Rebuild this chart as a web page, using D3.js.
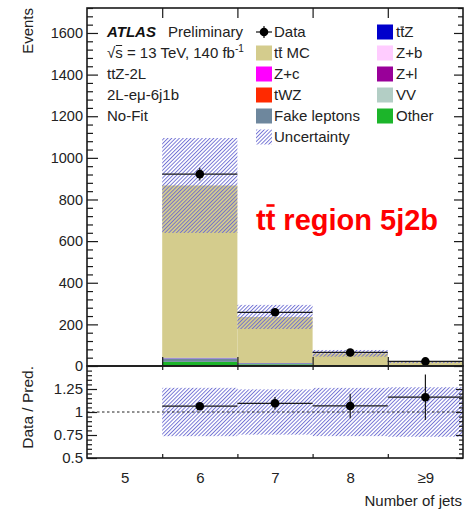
<!DOCTYPE html>
<html>
<head>
<meta charset="utf-8">
<script src="https://cdn.jsdelivr.net/npm/d3@7"></script>
<style>
  html, body { margin: 0; padding: 0; background: #fff; }
  svg { display: block; font-family: "Liberation Sans", Arial, Helvetica, sans-serif; }
</style>
</head>
<body>
<svg id="chart" width="467" height="513"></svg>
<script>
// ---- Binning: number of jets ----
const binLabels = ["5", "6", "7", "8", "\u22659"];
const binEdges  = [4.5, 5.5, 6.5, 7.5, 8.5, 9.5];
const binCenters = [5, 6, 7, 8, 9];

// ---- Observed data ----
const dataCounts = [0, 922, 258, 65, 22];

// ---- Expected yields per sample ----
const yieldOther = [0, 20, 8, 2, 1];
const yieldFake  = [0, 15, 4, 1, 0.3];
const yieldVV    = [0, 1.2, 0.4, 0.1, 0];
const yieldZl    = [0, 0.2, 0.1, 0, 0];
const yieldZb    = [0, 0.4, 0.2, 0.1, 0];
const yieldZc    = [0, 0.3, 0.1, 0.05, 0];
const yieldtWZ   = [0, 0.2, 0.1, 0.05, 0.05];
const yieldttZ   = [0, 2.2, 1.3, 0.7, 0.3];
const yieldttMC  = [0, 828, 221.5, 57, 17.3];

// ---- Total prediction uncertainty (absolute) ----
const predUnc = [0, 228, 58, 16, 5.1];

// ---- Axis ticks ----
const yTicksMain   = [0, 200, 400, 600, 800, 1000, 1200, 1400, 1600];
const yTicksRatio  = [0.5, 0.75, 1, 1.25];

// Stack order, bottom to top
const samples = [
  { key: "Other",        values: yieldOther, color: "#1cb52a" },
  { key: "Fake leptons", values: yieldFake,  color: "#6e879d" },
  { key: "VV",           values: yieldVV,    color: "#b3cec5" },
  { key: "Z+l",          values: yieldZl,    color: "#990099" },
  { key: "Z+b",          values: yieldZb,    color: "#ffccff" },
  { key: "Z+c",          values: yieldZc,    color: "#ff00ff" },
  { key: "tWZ",          values: yieldtWZ,   color: "#ff2a00" },
  { key: "ttZ",          values: yieldttZ,   color: "#0000cc" },
  { key: "tt MC",        values: yieldttMC,  color: "#d4cc8d" }
];
const colorOf = Object.fromEntries(samples.map(s => [s.key, s.color]));

const rows = binCenters.map((c, i) => {
  const r = { bin: i };
  samples.forEach(s => { r[s.key] = s.values[i]; });
  return r;
});
const pred = binCenters.map((c, i) => d3.sum(samples, s => s.values[i]));

// ---- Layout ----
const L = 87, R = 463, T = 8, MB = 366, RB = 458;
const svg = d3.select("#chart");

const x  = d3.scaleLinear().domain([4.5, 9.5]).range([L, R]);
const y  = d3.scaleLinear().domain([0, 1720]).range([MB, T]);
const yr = d3.scaleLinear().domain([0.5, 1.5]).range([RB, MB]);

// hatch pattern for uncertainty
const defs = svg.append("defs");
defs.append("pattern")
  .attr("id", "hatch")
  .attr("patternUnits", "userSpaceOnUse")
  .attr("width", 2.7).attr("height", 2.7)
  .attr("patternTransform", "rotate(45)")
  .append("line")
  .attr("x1", 0.5).attr("y1", 0).attr("x2", 0.5).attr("y2", 2.7)
  .attr("stroke", "#6a6ad2").attr("stroke-width", 0.9);

// ---- Main panel: stacked histogram ----
const series = d3.stack().keys(samples.map(s => s.key))(rows);
svg.append("g").attr("class", "stack")
  .selectAll("g").data(series).join("g")
  .attr("fill", d => colorOf[d.key])
  .selectAll("rect").data(d => d).join("rect")
  .attr("x", (d, i) => x(binEdges[i]))
  .attr("width", (d, i) => x(binEdges[i + 1]) - x(binEdges[i]))
  .attr("y", d => y(d[1]))
  .attr("height", d => Math.max(0, y(d[0]) - y(d[1])));

// uncertainty band
const bandBins = d3.range(binCenters.length).filter(i => pred[i] > 0);
svg.append("g").selectAll("rect").data(bandBins).join("rect")
  .attr("x", i => x(binEdges[i]))
  .attr("width", i => x(binEdges[i + 1]) - x(binEdges[i]))
  .attr("y", i => y(pred[i] + predUnc[i]))
  .attr("height", i => y(pred[i] - predUnc[i]) - y(pred[i] + predUnc[i]))
  .attr("fill", "url(#hatch)");

// data points
const dataBins = d3.range(binCenters.length).filter(i => dataCounts[i] > 0);
const gData = svg.append("g").attr("stroke", "#1a1a1a").attr("stroke-width", 1.2);
gData.selectAll("line.xerr").data(dataBins).join("line").attr("class", "xerr")
  .attr("x1", i => x(binEdges[i])).attr("x2", i => x(binEdges[i + 1]))
  .attr("y1", i => y(dataCounts[i])).attr("y2", i => y(dataCounts[i]));
gData.selectAll("line.yerr").data(dataBins).join("line").attr("class", "yerr")
  .attr("x1", i => x(binCenters[i])).attr("x2", i => x(binCenters[i]))
  .attr("y1", i => y(dataCounts[i] + Math.sqrt(dataCounts[i])))
  .attr("y2", i => y(dataCounts[i] - Math.sqrt(dataCounts[i])));
svg.append("g").selectAll("circle").data(dataBins).join("circle")
  .attr("cx", i => x(binCenters[i])).attr("cy", i => y(dataCounts[i]))
  .attr("r", 4.3).attr("fill", "#000");

// ---- Ratio panel ----
svg.append("g").selectAll("rect").data(bandBins).join("rect")
  .attr("x", i => x(binEdges[i]))
  .attr("width", i => x(binEdges[i + 1]) - x(binEdges[i]))
  .attr("y", i => yr(1 + predUnc[i] / pred[i]))
  .attr("height", i => yr(1 - predUnc[i] / pred[i]) - yr(1 + predUnc[i] / pred[i]))
  .attr("fill", "url(#hatch)");

svg.append("line")
  .attr("x1", L).attr("x2", R).attr("y1", yr(1)).attr("y2", yr(1))
  .attr("stroke", "#222").attr("stroke-width", 1).attr("stroke-dasharray", "2.5,2.5");

const ratio = i => dataCounts[i] / pred[i];
const ratioErr = i => Math.sqrt(dataCounts[i]) / pred[i];
const gRatio = svg.append("g").attr("stroke", "#1a1a1a").attr("stroke-width", 1.2);
gRatio.selectAll("line.xerr").data(dataBins).join("line").attr("class", "xerr")
  .attr("x1", i => x(binEdges[i])).attr("x2", i => x(binEdges[i + 1]))
  .attr("y1", i => yr(ratio(i))).attr("y2", i => yr(ratio(i)));
gRatio.selectAll("line.yerr").data(dataBins).join("line").attr("class", "yerr")
  .attr("x1", i => x(binCenters[i])).attr("x2", i => x(binCenters[i]))
  .attr("y1", i => yr(ratio(i) + ratioErr(i)))
  .attr("y2", i => yr(ratio(i) - ratioErr(i)));
svg.append("g").selectAll("circle").data(dataBins).join("circle")
  .attr("cx", i => x(binCenters[i])).attr("cy", i => yr(ratio(i)))
  .attr("r", 4.3).attr("fill", "#000");

// ---- Axes ----
function styleAxis(g, fontSize) {
  g.select(".domain").remove();
  g.selectAll(".tick line").attr("stroke", "#1a1a1a").attr("stroke-width", 1.2);
  g.selectAll("text").attr("fill", "#222").attr("font-size", fontSize)
    .attr("font-family", "Liberation Sans, Arial, sans-serif");
}
const yMinorMain = d3.range(0, 1721, 40).filter(v => v % 200 !== 0);
const yMinorRatio = d3.range(0.5, 1.5001, 0.05).map(v => +v.toFixed(2))
  .filter(v => Math.abs(v * 4 - Math.round(v * 4)) > 1e-6);

// main y, left
svg.append("g").attr("transform", `translate(${L},0)`)
  .call(d3.axisLeft(y).tickValues(yTicksMain).tickSize(-11).tickPadding(4)
    .tickFormat(d3.format("d")))
  .call(g => styleAxis(g, "14.5px"));
svg.append("g").attr("transform", `translate(${L},0)`)
  .call(d3.axisLeft(y).tickValues(yMinorMain).tickSize(-6).tickFormat(""))
  .call(g => styleAxis(g));
// main y, right
svg.append("g").attr("transform", `translate(${R},0)`)
  .call(d3.axisLeft(y).tickValues(yTicksMain).tickSize(9).tickFormat(""))
  .call(g => styleAxis(g));
svg.append("g").attr("transform", `translate(${R},0)`)
  .call(d3.axisLeft(y).tickValues(yMinorMain).tickSize(5).tickFormat(""))
  .call(g => styleAxis(g));
// main x, top and bottom ticks at bin edges
const innerEdges = binEdges.slice(1, -1);
svg.append("g").attr("transform", `translate(0,${T})`)
  .call(d3.axisBottom(x).tickValues(innerEdges).tickSize(10).tickFormat(""))
  .call(g => styleAxis(g));
svg.append("g").attr("transform", `translate(0,${MB})`)
  .call(d3.axisTop(x).tickValues(innerEdges).tickSize(9).tickFormat(""))
  .call(g => styleAxis(g));

// ratio y, left
svg.append("g").attr("transform", `translate(${L},0)`)
  .call(d3.axisLeft(yr).tickValues(yTicksRatio).tickSize(-10).tickPadding(4)
    .tickFormat(d => String(d)))
  .call(g => styleAxis(g, "15px"));
svg.append("g").attr("transform", `translate(${L},0)`)
  .call(d3.axisLeft(yr).tickValues(yMinorRatio).tickSize(-5).tickFormat(""))
  .call(g => styleAxis(g));
// ratio y, right
svg.append("g").attr("transform", `translate(${R},0)`)
  .call(d3.axisLeft(yr).tickValues(yTicksRatio).tickSize(7).tickFormat(""))
  .call(g => styleAxis(g));
svg.append("g").attr("transform", `translate(${R},0)`)
  .call(d3.axisLeft(yr).tickValues(yMinorRatio).tickSize(4).tickFormat(""))
  .call(g => styleAxis(g));
// ratio x ticks
svg.append("g").attr("transform", `translate(0,${MB})`)
  .call(d3.axisBottom(x).tickValues(innerEdges).tickSize(4).tickFormat(""))
  .call(g => styleAxis(g));
svg.append("g").attr("transform", `translate(0,${RB})`)
  .call(d3.axisTop(x).tickValues(innerEdges).tickSize(4).tickFormat(""))
  .call(g => styleAxis(g));
// x labels at bin centres
svg.append("g").attr("transform", `translate(0,${RB})`)
  .call(d3.axisBottom(x).tickValues(binCenters).tickSize(0).tickPadding(14)
    .tickFormat((d, i) => binLabels[i]))
  .call(g => styleAxis(g, "15px"));

// frames
svg.append("rect").attr("x", L).attr("y", T).attr("width", R - L).attr("height", MB - T)
  .attr("fill", "none").attr("stroke", "#1a1a1a").attr("stroke-width", 1.6);
svg.append("rect").attr("x", L).attr("y", MB).attr("width", R - L).attr("height", RB - MB)
  .attr("fill", "none").attr("stroke", "#1a1a1a").attr("stroke-width", 1.6);

// axis titles
svg.append("text").attr("transform", `translate(33,${T}) rotate(-90)`)
  .attr("text-anchor", "end").attr("font-size", "15px").attr("fill", "#222")
  .text("Events");
svg.append("text").attr("transform", `translate(33,${MB}) rotate(-90)`)
  .attr("text-anchor", "end").attr("font-size", "15.5px").attr("fill", "#222")
  .text("Data / Pred.");
svg.append("text").attr("x", 462).attr("y", 506)
  .attr("text-anchor", "end").attr("font-size", "15px").attr("fill", "#222")
  .text("Number of jets");

// ---- Text helpers ----
function overline(textSel, idx, baseline, rise, thick, color) {
  const ext = textSel.node().getExtentOfChar(idx);
  const pad = ext.width * 0.08;
  svg.append("line")
    .attr("x1", ext.x + pad).attr("x2", ext.x + ext.width - pad)
    .attr("y1", baseline - rise).attr("y2", baseline - rise)
    .attr("stroke", color).attr("stroke-width", thick);
}

// ---- Labels block ----
svg.append("text").attr("x", 107).attr("y", 36.5).attr("font-size", "15px")
  .attr("font-weight", "bold").attr("font-style", "italic").attr("fill", "#111")
  .text("ATLAS");
svg.append("text").attr("x", 168).attr("y", 36.5).attr("font-size", "15px").attr("fill", "#222")
  .text("Preliminary");
const sqrtLine = svg.append("text").attr("x", 107).attr("y", 57.5).attr("font-size", "15px").attr("fill", "#222");
sqrtLine.append("tspan").text("\u221As = 13 TeV, 140 fb");
sqrtLine.append("tspan").attr("font-size", "10px").attr("dy", -6).text("-1");
overline(sqrtLine, 1, 57.5, 12, 1, "#222");
["ttZ-2L", "2L-e\u03BC-6j1b", "No-Fit"].forEach((s, k) => {
  svg.append("text").attr("x", 107).attr("y", 78.5 + 21 * k)
    .attr("font-size", "15px").attr("fill", "#222").text(s);
});

// ---- Legend ----
const legendCol1 = [
  { label: "Data", type: "data" },
  { label: "tt MC", key: "tt MC", bar: 1 },
  { label: "Z+c", key: "Z+c" },
  { label: "tWZ", key: "tWZ" },
  { label: "Fake leptons", key: "Fake leptons" },
  { label: "Uncertainty", type: "unc" }
];
const legendCol2 = [
  { label: "ttZ", key: "ttZ", bar: 1 },
  { label: "Z+b", key: "Z+b" },
  { label: "Z+l", key: "Z+l" },
  { label: "VV", key: "VV" },
  { label: "Other", key: "Other" }
];
function drawLegend(entries, bx, tx) {
  entries.forEach((e, k) => {
    const base = 37 + 21 * k;
    const cy = base - 5;
    if (e.type === "data") {
      const g = svg.append("g").attr("stroke", "#111").attr("stroke-width", 1.2);
      g.append("line").attr("x1", bx).attr("x2", bx + 16).attr("y1", cy).attr("y2", cy);
      g.append("line").attr("x1", bx + 8).attr("x2", bx + 8).attr("y1", cy - 6).attr("y2", cy + 6);
      svg.append("circle").attr("cx", bx + 8).attr("cy", cy).attr("r", 4.3).attr("fill", "#000");
    } else if (e.type === "unc") {
      svg.append("rect").attr("x", bx).attr("y", cy - 7.5).attr("width", 16).attr("height", 15)
        .attr("fill", "url(#hatch)");
    } else {
      svg.append("rect").attr("x", bx).attr("y", cy - 7.5).attr("width", 16).attr("height", 15)
        .attr("fill", colorOf[e.key]);
    }
    const t = svg.append("text").attr("x", tx).attr("y", base)
      .attr("font-size", "15px").attr("fill", "#222").text(e.label);
    if (e.bar) overline(t, e.bar, base, 10, 1.1, "#222");
  });
}
drawLegend(legendCol1, 256, 274);
drawLegend(legendCol2, 377, 396);

// ---- Region label ----
const region = svg.append("text").attr("x", 256).attr("y", 230)
  .attr("font-size", "29px").attr("font-weight", "bold").attr("fill", "#ff0000")
  .text("tt region 5j2b");
overline(region, 1, 230, 24.5, 2.6, "#ff0000");
</script>
</body>
</html>
